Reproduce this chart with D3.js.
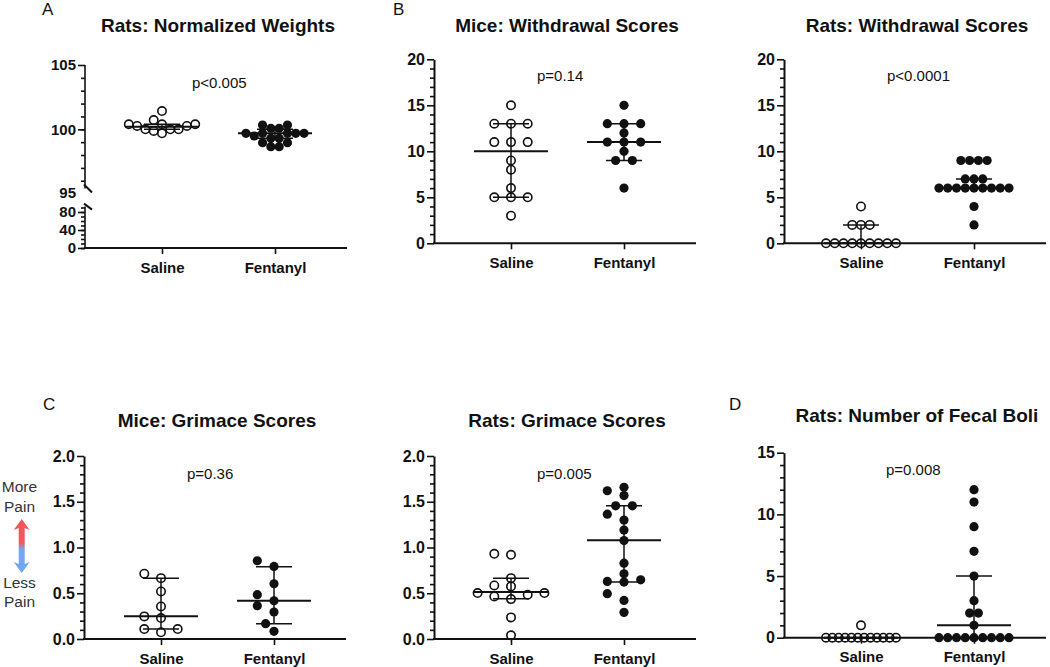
<!DOCTYPE html>
<html><head><meta charset="utf-8">
<script src="https://cdn.jsdelivr.net/npm/d3@7"></script>
<style>
body{margin:0;background:#fff;}
svg{display:block;font-family:"Liberation Sans",Arial,Helvetica,sans-serif;}
</style></head><body>
<svg id="chart" width="1050" height="667"></svg>
<script>
// ---------------- DATA ----------------
const groups = ["Saline", "Fentanyl"];

// A: Rats normalized weights
const weightSaline   = [100.0, 100.39, 100.26, 100.39, 101.42, 100.39, 99.69, 100.26, 100.0, 100.0, 100.72, 99.87];
const weightFentanyl = [99.69, 100.33, 99.69, 98.96, 99.69, 99.69, 98.96, 100.08, 99.30, 99.48, 98.65, 100.33, 99.30, 99.69, 98.65, 100.08];
const weightMedian = [100.2, 99.69], weightQ1 = [100.0, 99.3], weightQ3 = [100.39, 100.0];

// B: Mice withdrawal scores
const miceWdSaline   = [15, 13, 13, 13, 11, 11, 11, 9, 8, 6, 5, 5, 5, 3];
const miceWdFentanyl = [15, 13, 13, 13, 12, 11, 11, 11, 10, 9, 9, 6];
const miceWdMedian = [10, 11], miceWdQ1 = [5, 9], miceWdQ3 = [13, 13];

// B: Rats withdrawal scores
const ratsWdSaline   = [4, 2, 2, 2, 0, 0, 0, 0, 0, 0, 0, 0, 0];
const ratsWdFentanyl = [9, 9, 9, 9, 7, 7, 7, 6, 6, 6, 6, 6, 6, 6, 6, 6, 4, 2];
const ratsWdMedian = [0, 6], ratsWdQ1 = [0, 6], ratsWdQ3 = [2, 7];

// C: Mice grimace scores
const miceGrSaline   = [0.665, 0.713, 0.52, 0.356, 0.247, 0.229, 0.073, 0.109, 0.109];
const miceGrFentanyl = [0.793, 0.855, 0.604, 0.418, 0.484, 0.295, 0.364, 0.167, 0.084];
const miceGrMedian = [0.25, 0.418], miceGrQ1 = [0.109, 0.167], miceGrQ3 = [0.665, 0.79];

// C: Rats grimace scores
const ratsGrSaline   = [0.92, 0.931, 0.665, 0.575, 0.585, 0.502, 0.502, 0.465, 0.484, 0.436, 0.236, 0.04];
const ratsGrFentanyl = [1.658, 1.567, 1.62, 1.455, 1.455, 1.364, 1.30, 1.19, 1.076, 0.829, 0.713, 0.647, 0.622, 0.629, 0.495, 0.422, 0.291];
const ratsGrMedian = [0.513, 1.08], ratsGrQ1 = [0.44, 0.622], ratsGrQ3 = [0.665, 1.455];

// D: Rats number of fecal boli
const boliSaline   = [1, 0, 0, 0, 0, 0, 0, 0, 0, 0, 0, 0, 0];
const boliFentanyl = [12, 11, 9, 7, 5, 3, 2, 2, 1, 0, 0, 0, 0, 0, 0, 0, 0, 0];
const boliMedian = [0, 1], boliQ1 = [0, 0], boliQ3 = [0, 5];

// tick labels
const weightUpperTicks = [95, 100, 105];
const weightLowerTicks = [0, 40, 80];
const scoreTicks20 = [0, 5, 10, 15, 20];
const grimaceTicks = [0, 0.5, 1.0, 1.5, 2.0];
const boliTicks = [0, 5, 10, 15];

// ---------------- LAYOUT ----------------
const panels = [
  {letter: "A", lx: 42, ly: 15, title: "Rats: Normalized Weights", p: "p<0.005", pdx: 107, py: 88,
   ax: 85, base: 248, tby: 31.5, data: [weightSaline, weightFentanyl], tfs: 15,
   med: weightMedian, q1: weightQ1, q3: weightQ3, step: 8.3, broken: true},
  {letter: "B", lx: 393, ly: 15, title: "Mice: Withdrawal Scores", p: "p=0.14", pdx: 103, py: 81,
   ax: 434, base: 243.3, top: 59.3, tby: 31.5, domain: [0, 20], ticks: scoreTicks20, minor: 1, fmt: d3.format("d"),
   data: [miceWdSaline, miceWdFentanyl], med: miceWdMedian, q1: miceWdQ1, q3: miceWdQ3, tfs: 16},
  {letter: "", title: "Rats: Withdrawal Scores", p: "p<0.0001", pdx: 103, py: 81,
   ax: 784, base: 243.3, top: 59.3, tby: 31.5, domain: [0, 20], ticks: scoreTicks20, minor: 1, fmt: d3.format("d"),
   data: [ratsWdSaline, ratsWdFentanyl], med: ratsWdMedian, q1: ratsWdQ1, q3: ratsWdQ3, tfs: 16},
  {letter: "C", lx: 43, ly: 410, title: "Mice: Grimace Scores", p: "p=0.36", pdx: 103, py: 479,
   ax: 84, base: 639, top: 456, tby: 426.5, domain: [0, 2], ticks: grimaceTicks, minor: 0.1, fmt: d3.format(".1f"),
   data: [miceGrSaline, miceGrFentanyl], med: miceGrMedian, q1: miceGrQ1, q3: miceGrQ3, tfs: 16},
  {letter: "", title: "Rats: Grimace Scores", p: "p=0.005", pdx: 103, py: 479,
   ax: 434, base: 639, top: 456, tby: 426.5, domain: [0, 2], ticks: grimaceTicks, minor: 0.1, fmt: d3.format(".1f"),
   data: [ratsGrSaline, ratsGrFentanyl], med: ratsGrMedian, q1: ratsGrQ1, q3: ratsGrQ3, tfs: 16},
  {letter: "D", lx: 729, ly: 410, title: "Rats: Number of Fecal Boli", p: "p=0.008", pdx: 102, py: 475,
   ax: 784, base: 637.7, top: 452.7, tby: 422, domain: [0, 15], ticks: boliTicks, minor: 1, fmt: d3.format("d"),
   data: [boliSaline, boliFentanyl], med: boliMedian, q1: boliQ1, q3: boliQ3, tfs: 16}
];

const INK = "#111";
const svg = d3.select("#chart");

// beeswarm-like layout (GraphPad style)
function swarm(values, y, step, d) {
  const pts = values.map(v => ({v, py: y(v), dx: 0}));
  const sorted = pts.slice().sort((a, b) => a.v - b.v);
  const placed = [];
  const collides = (px, py) => placed.some(q => {
    const ex = (px - q.dx) / step, ey = (py - q.py) / d;
    return ex * ex + ey * ey < 0.98;
  });
  let i = 0;
  while (i < sorted.length) {
    let j = i;
    while (j < sorted.length && sorted[j].v === sorted[i].v) j++;
    const grp = sorted.slice(i, j), n = grp.length;
    const offs = grp.map((_, k) => (k - (n - 1) / 2) * step);
    if (n > 1 && offs.every(o => !collides(o, grp[0].py))) {
      grp.forEach((p, k) => { p.dx = offs[k]; placed.push(p); });
    } else {
      grp.forEach(p => {
        for (let k = 0; k < 60; k++) {
          const cands = k === 0 ? [0] : [-k * step / 2, k * step / 2];
          const c = cands.find(o => !collides(o, p.py));
          if (c !== undefined) { p.dx = c; break; }
        }
        placed.push(p);
      });
    }
    i = j;
  }
  return pts;
}

function styleAxis(g, size) {
  g.selectAll("text").attr("font-size", size).attr("font-weight", "bold").attr("fill", INK);
  g.selectAll("line").attr("stroke", INK).attr("stroke-width", 1.6);
  g.selectAll("path").attr("stroke", INK).attr("stroke-width", 2);
}

panels.forEach(P => {
  const g = svg.append("g");
  const x = d3.scalePoint().domain(groups).range([P.ax + 77, P.ax + 190]);
  let y;
  if (P.broken) {
    const yU = d3.scaleLinear().domain([95, 105]).range([193.6, 65]);
    const yL = d3.scaleLinear().domain([0, 90]).range([P.base, 207.5]);
    y = yU;
    // upper segment
    const gu = g.append("g").attr("transform", `translate(${P.ax},0)`);
    gu.append("line").attr("x1", 0).attr("x2", 0).attr("y1", yU(105)).attr("y2", yU(95.4))
      .attr("stroke", INK).attr("stroke-width", 2);
    gu.call(d3.axisLeft(yU).tickValues(d3.range(96, 105, 1)).tickSize(4).tickFormat(""))
      .call(a => a.select(".domain").remove()).call(a => styleAxis(a, P.tfs));
    gu.append("g").call(d3.axisLeft(yU).tickValues([100, 105]).tickSize(7).tickPadding(2).tickFormat(d3.format("d")))
      .call(a => a.select(".domain").remove()).call(a => styleAxis(a, P.tfs));
    gu.append("text").attr("x", -9).attr("y", yU(95)).attr("dy", "0.32em").attr("text-anchor", "end")
      .attr("font-size", P.tfs).attr("font-weight", "bold").attr("fill", INK).text(weightUpperTicks[0]);
    // lower segment
    const gl = g.append("g").attr("transform", `translate(${P.ax},0)`);
    gl.append("line").attr("x1", 0).attr("x2", 0).attr("y1", yL(92)).attr("y2", P.base)
      .attr("stroke", INK).attr("stroke-width", 2);
    gl.call(d3.axisLeft(yL).tickValues(d3.range(0, 100, 10)).tickSize(4).tickFormat(""))
      .call(a => a.select(".domain").remove()).call(a => styleAxis(a, P.tfs));
    gl.append("g").call(d3.axisLeft(yL).tickValues(weightLowerTicks).tickSize(7).tickPadding(2).tickFormat(d3.format("d")))
      .call(a => a.select(".domain").remove()).call(a => styleAxis(a, P.tfs));
    // break marks
    [[yU(95.4), 8], [yL(92), 6]].forEach(([yy, h]) => {
      g.append("line").attr("x1", P.ax - 1).attr("y1", yy - h / 2).attr("x2", P.ax + 7).attr("y2", yy + h / 2)
        .attr("stroke", INK).attr("stroke-width", 2);
    });
  } else {
    y = d3.scaleLinear().domain(P.domain).range([P.base, P.top]);
    const ga = g.append("g").attr("transform", `translate(${P.ax},0)`);
    const minorVals = d3.range(P.domain[0], P.domain[1] + P.minor / 2, P.minor)
      .filter(v => !P.ticks.some(t => Math.abs(t - v) < 1e-6));
    ga.append("g").call(d3.axisLeft(y).tickValues(minorVals).tickSize(4).tickFormat(""))
      .call(a => a.select(".domain").remove()).call(a => styleAxis(a, P.tfs));
    ga.append("g").call(d3.axisLeft(y).tickValues(P.ticks).tickSize(7).tickSizeOuter(0).tickPadding(2).tickFormat(P.fmt))
      .call(a => styleAxis(a, P.tfs));
  }

  // x axis
  g.append("line").attr("x1", P.ax - 1).attr("x2", P.ax + 262).attr("y1", P.base).attr("y2", P.base)
    .attr("stroke", INK).attr("stroke-width", 2);
  g.append("g").attr("transform", `translate(0,${P.base})`)
    .call(d3.axisBottom(x).tickSize(6).tickPadding(8))
    .call(a => a.select(".domain").remove())
    .call(a => styleAxis(a, 15));

  // title, letter, p value
  g.append("text").attr("x", P.ax + 133).attr("y", P.tby).attr("text-anchor", "middle")
    .attr("font-size", 19).attr("font-weight", "bold").attr("fill", INK).text(P.title);
  if (P.letter) g.append("text").attr("x", P.lx).attr("y", P.ly).attr("font-size", 17)
    .attr("fill", INK).text(P.letter);
  g.append("text").attr("x", P.ax + P.pdx).attr("y", P.py).attr("font-size", 15)
    .attr("fill", INK).text(P.p);

  // median + IQR
  groups.forEach((grp, gi) => {
    const cx = x(grp);
    const gs = g.append("g").attr("stroke", INK).attr("fill", "none");
    gs.append("line").attr("x1", cx).attr("x2", cx).attr("y1", y(P.q1[gi])).attr("y2", y(P.q3[gi])).attr("stroke-width", 1.5);
    [P.q1[gi], P.q3[gi]].forEach(v => gs.append("line").attr("x1", cx - 18).attr("x2", cx + 18)
      .attr("y1", y(v)).attr("y2", y(v)).attr("stroke-width", 1.5));
    gs.append("line").attr("x1", cx - 37).attr("x2", cx + 37).attr("y1", y(P.med[gi])).attr("y2", y(P.med[gi]))
      .attr("stroke-width", 2);
  });

  // dots
  groups.forEach((grp, gi) => {
    const vals = P.data[gi];
    const counts = d3.rollup(vals, v => v.length, v => v);
    const maxTie = d3.max(Array.from(counts.values()));
    const step = P.step || Math.min(16.7, maxTie > 1 ? 70 / (maxTie - 1) : 16.7);
    const pts = swarm(vals, y, step, 8.2);
    g.append("g").selectAll("circle").data(pts).join("circle")
      .attr("cx", d => x(grp) + d.dx).attr("cy", d => d.py)
      .attr("r", gi === 0 ? 4.2 : 4.6)
      .attr("fill", gi === 0 ? "none" : INK)
      .attr("stroke", INK).attr("stroke-width", gi === 0 ? 1.6 : 0);
  });
});

// pain legend
const defs = svg.append("defs");
const grad = defs.append("linearGradient").attr("id", "painGrad").attr("x1", 0).attr("y1", 0).attr("x2", 0).attr("y2", 1);
grad.append("stop").attr("offset", "0%").attr("stop-color", "#f2545b");
grad.append("stop").attr("offset", "44%").attr("stop-color", "#f2585e");
grad.append("stop").attr("offset", "56%").attr("stop-color", "#72a7f1");
grad.append("stop").attr("offset", "100%").attr("stop-color", "#6fa6f2");
const axc = 21.7, t = 519, b = 573, hw = 8, sw = 3, hh = 11;
svg.append("path")
  .attr("d", `M${axc},${t} L${axc + hw},${t + hh} L${axc + sw},${t + hh - 2} L${axc + sw},${b - hh + 2} L${axc + hw},${b - hh} L${axc},${b} L${axc - hw},${b - hh} L${axc - sw},${b - hh + 2} L${axc - sw},${t + hh - 2} L${axc - hw},${t + hh} Z`)
  .attr("fill", "url(#painGrad)");
[["More", 492], ["Pain", 512], ["Less", 588], ["Pain", 607]].forEach(([s, yy]) => {
  svg.append("text").attr("x", 19.5).attr("y", yy).attr("text-anchor", "middle")
    .attr("font-size", 15.5).attr("fill", "#333").text(s);
});
</script>
</body></html>
